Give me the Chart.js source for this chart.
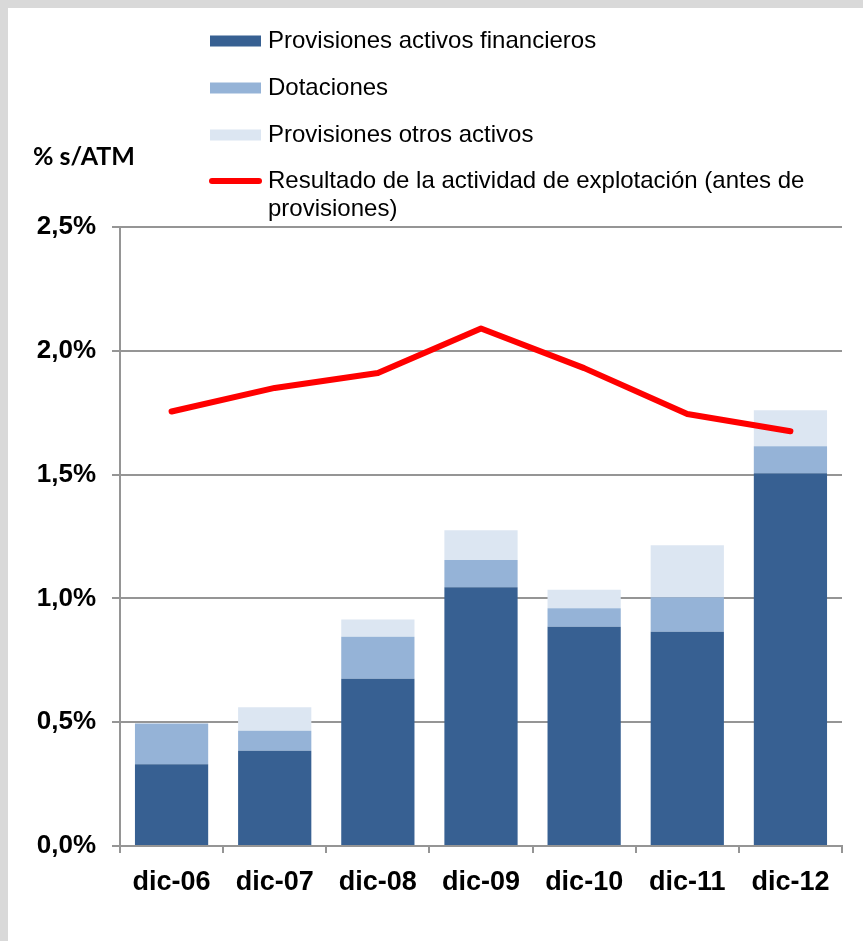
<!DOCTYPE html>
<html>
<head>
<meta charset="utf-8">
<script src="https://cdn.jsdelivr.net/npm/chart.js@4"></script>
<style>
  html, body { margin: 0; padding: 0; background: #d9d9d9; width: 863px; height: 941px; overflow: hidden; }
  #wrap { position: absolute; left: 8px; top: 8px; width: 855px; height: 933px; background: #ffffff; }
  canvas { display: block; }
</style>
</head>
<body>
<div id="wrap"><canvas id="c" width="855" height="933"></canvas></div>
<script>
const categories = ['dic-06', 'dic-07', 'dic-08', 'dic-09', 'dic-10', 'dic-11', 'dic-12'];
const provisionesActivosFinancieros = [0.33, 0.385, 0.675, 1.045, 0.885, 0.865, 1.505];
const dotaciones = [0.165, 0.08, 0.17, 0.11, 0.075, 0.14, 0.11];
const provisionesOtrosActivos = [0.0, 0.095, 0.07, 0.12, 0.075, 0.21, 0.145];
const resultadoExplotacion = [1.755, 1.85, 1.91, 2.09, 1.93, 1.745, 1.675];
const yTicks = [0, 0.5, 1.0, 1.5, 2.0, 2.5];
const axisTitle = '% s/ATM';

const GRID = '#959595';

const legendPlugin = {
  id: 'customLegend',
  afterDraw(chart) {
    const ctx = chart.ctx;
    ctx.save();
    // axis title
    ctx.font = 'bold 25px Lato, "Open Sans", sans-serif';
    ctx.fillStyle = '#000';
    ctx.textAlign = 'left';
    ctx.textBaseline = 'middle';
    ctx.fillText(axisTitle, 25, 149);

    const boxX = 202, boxW = 51, textX = 260, maxW = 560;
    const rows = [33, 80, 127, 173];
    const order = [0, 1, 2, 3];
    ctx.font = '24px "Liberation Sans", Arial, sans-serif';
    order.forEach((di, i) => {
      const ds = chart.data.datasets[di];
      const cy = rows[i];
      if (ds.type === 'line') {
        ctx.strokeStyle = ds.borderColor;
        ctx.lineWidth = 6;
        ctx.lineCap = 'round';
        ctx.beginPath();
        ctx.moveTo(boxX + 2, cy);
        ctx.lineTo(boxX + boxW - 2, cy);
        ctx.stroke();
      } else {
        ctx.fillStyle = ds.backgroundColor;
        ctx.fillRect(boxX, cy - 5.5, boxW, 11);
      }
      // wrap text
      const words = ds.label.split(' ');
      const lines = [];
      let cur = '';
      words.forEach(w => {
        const t = cur ? cur + ' ' + w : w;
        if (ctx.measureText(t).width > maxW && cur) { lines.push(cur); cur = w; }
        else cur = t;
      });
      lines.push(cur);
      ctx.fillStyle = '#000';
      ctx.textAlign = 'left';
      ctx.textBaseline = 'middle';
      lines.forEach((ln, k) => ctx.fillText(ln, textX, cy + k * 28));
    });
    ctx.restore();
  }
};

new Chart(document.getElementById('c'), {
  data: {
    labels: categories,
    datasets: [
      { type: 'bar', label: 'Provisiones activos financieros', data: provisionesActivosFinancieros,
        backgroundColor: '#376092', stack: 'bars', order: 1 },
      { type: 'bar', label: 'Dotaciones', data: dotaciones,
        backgroundColor: '#95b3d7', stack: 'bars', order: 1 },
      { type: 'bar', label: 'Provisiones otros activos', data: provisionesOtrosActivos,
        backgroundColor: '#dce6f2', stack: 'bars', order: 1 },
      { type: 'line', label: 'Resultado de la actividad de explotación (antes de provisiones)', data: resultadoExplotacion,
        borderColor: '#ff0000', backgroundColor: '#ff0000', borderWidth: 6, pointRadius: 0,
        borderCapStyle: 'round', borderJoinStyle: 'round', tension: 0, stack: 'line', order: 0 }
    ]
  },
  options: {
    responsive: false,
    devicePixelRatio: 1,
    animation: false,
    layout: { padding: { top: 219, right: 21, left: 0, bottom: 0 } },
    plugins: { legend: { display: false }, tooltip: { enabled: false } },
    datasets: { bar: { barPercentage: 0.71, categoryPercentage: 1.0, borderWidth: 0 } },
    scales: {
      x: {
        stacked: true,
        grid: { display: true, drawOnChartArea: false, drawTicks: true, tickLength: 7, color: GRID, lineWidth: 2, offset: true },
        border: { display: true, color: GRID, width: 2 },
        ticks: { color: '#000', font: { family: '"Liberation Sans", Arial, sans-serif', size: 27, weight: 'bold' }, padding: 13, maxRotation: 0 },
        afterFit(s) { s.height = 95; }
      },
      y: {
        stacked: true,
        min: 0, max: 2.5,
        afterBuildTicks(s) { s.ticks = yTicks.map(v => ({ value: v })); },
        grid: { display: true, drawOnChartArea: true, drawTicks: true, tickLength: 8, color: GRID, lineWidth: 2 },
        border: { display: true, color: GRID, width: 2 },
        ticks: {
          color: '#000', padding: 16,
          font: { family: '"Liberation Sans", Arial, sans-serif', size: 26, weight: 'bold' },
          callback: v => v.toFixed(1).replace('.', ',') + '%'
        },
        afterFit(s) { s.width = 112; }
      }
    }
  },
  plugins: [legendPlugin]
});
</script>
</body>
</html>
